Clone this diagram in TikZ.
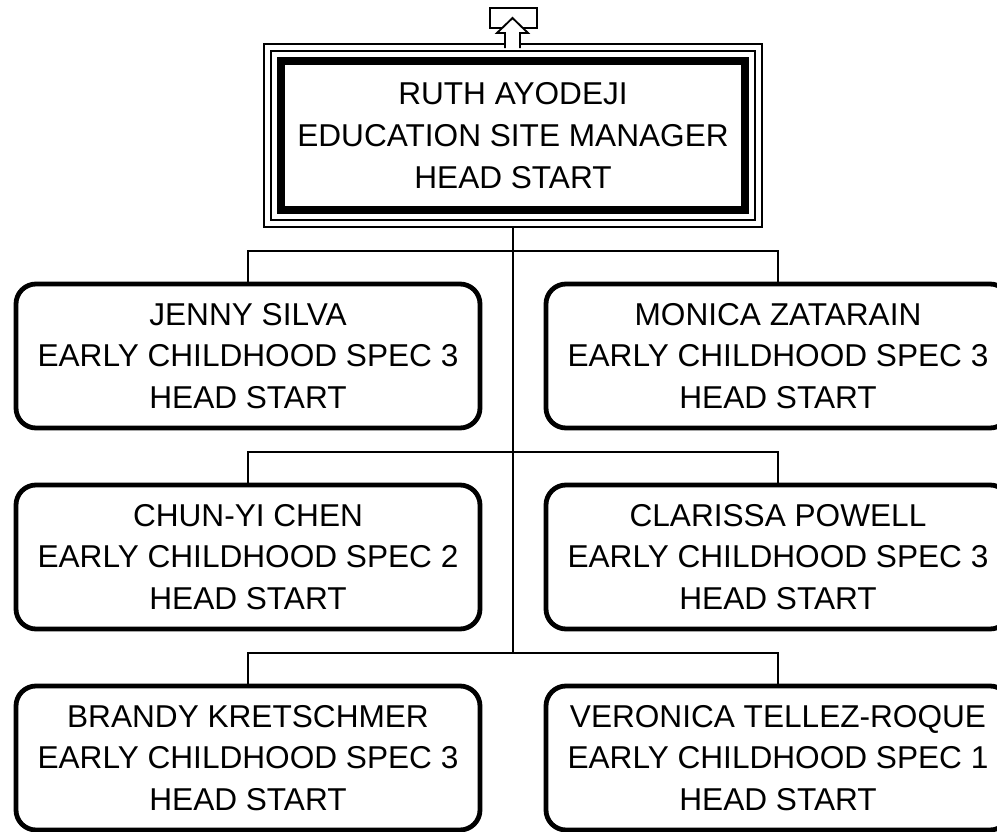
\documentclass[tikz,border=0pt]{standalone}
\usepackage{fontspec}
\setmainfont{Liberation Sans}
\usetikzlibrary{positioning}

\begin{document}
\begin{tikzpicture}[
  x=0.75pt, y=-0.75pt,
  font=\fontsize{23.7pt}{31.3pt}\selectfont,
  person/.style={draw, line width=3.6pt, rounded corners=15pt, align=center, inner sep=0pt,
                 minimum width=348pt, minimum height=108pt},
  head/.style={draw, line width=6pt, align=center, inner sep=0pt,
               minimum width=348pt, minimum height=111.75pt},
  frame/.style={line width=1.4pt},
  link/.style={line width=1.5pt}
]
  \useasboundingbox (0,0) rectangle (997,832);

  % manager
  \node[head] (mgr) at (513,135.5)
    {RUTH AYODEJI\\EDUCATION SITE MANAGER\\HEAD START};
  \draw[frame] ([xshift=-4.5pt,yshift=4.5pt]mgr.north west) rectangle ([xshift=4.5pt,yshift=-4.5pt]mgr.south east);
  \draw[frame] ([xshift=-9.75pt,yshift=9.75pt]mgr.north west) rectangle ([xshift=9.75pt,yshift=-9.75pt]mgr.south east);
  \draw[frame] (490,8) rectangle (537,28);
  \draw[frame, fill=white] (505,48) -- (505,33) -- (497,33) -- (512.5,18) -- (528,33) -- (520,33) -- (520,48);

  % staff
  \node[person] (silva) at (248,356)
    {JENNY SILVA\\EARLY CHILDHOOD SPEC 3\\HEAD START};
  \node[person] (zatarain) at (778,356)
    {MONICA ZATARAIN\\EARLY CHILDHOOD SPEC 3\\HEAD START};
  \node[person] (chen) at (248,557)
    {CHUN-YI CHEN\\EARLY CHILDHOOD SPEC 2\\HEAD START};
  \node[person] (powell) at (778,557)
    {CLARISSA POWELL\\EARLY CHILDHOOD SPEC 3\\HEAD START};
  \node[person] (kretschmer) at (248,758)
    {BRANDY KRETSCHMER\\EARLY CHILDHOOD SPEC 3\\HEAD START};
  \node[person] (roque) at (778,758)
    {VERONICA TELLEZ-ROQUE\\EARLY CHILDHOOD SPEC 1\\HEAD START};

  \coordinate (trunk) at (513,653);
  \draw[link] ([yshift=-9.75pt]mgr.south) -- (trunk);
  \draw[link] (silva.north) -- ++(0,-31) -| (zatarain.north);
  \draw[link] (chen.north) -- ++(0,-31) -| (powell.north);
  \draw[link] (kretschmer.north) -- ++(0,-31) -| (roque.north);
\end{tikzpicture}
\end{document}
